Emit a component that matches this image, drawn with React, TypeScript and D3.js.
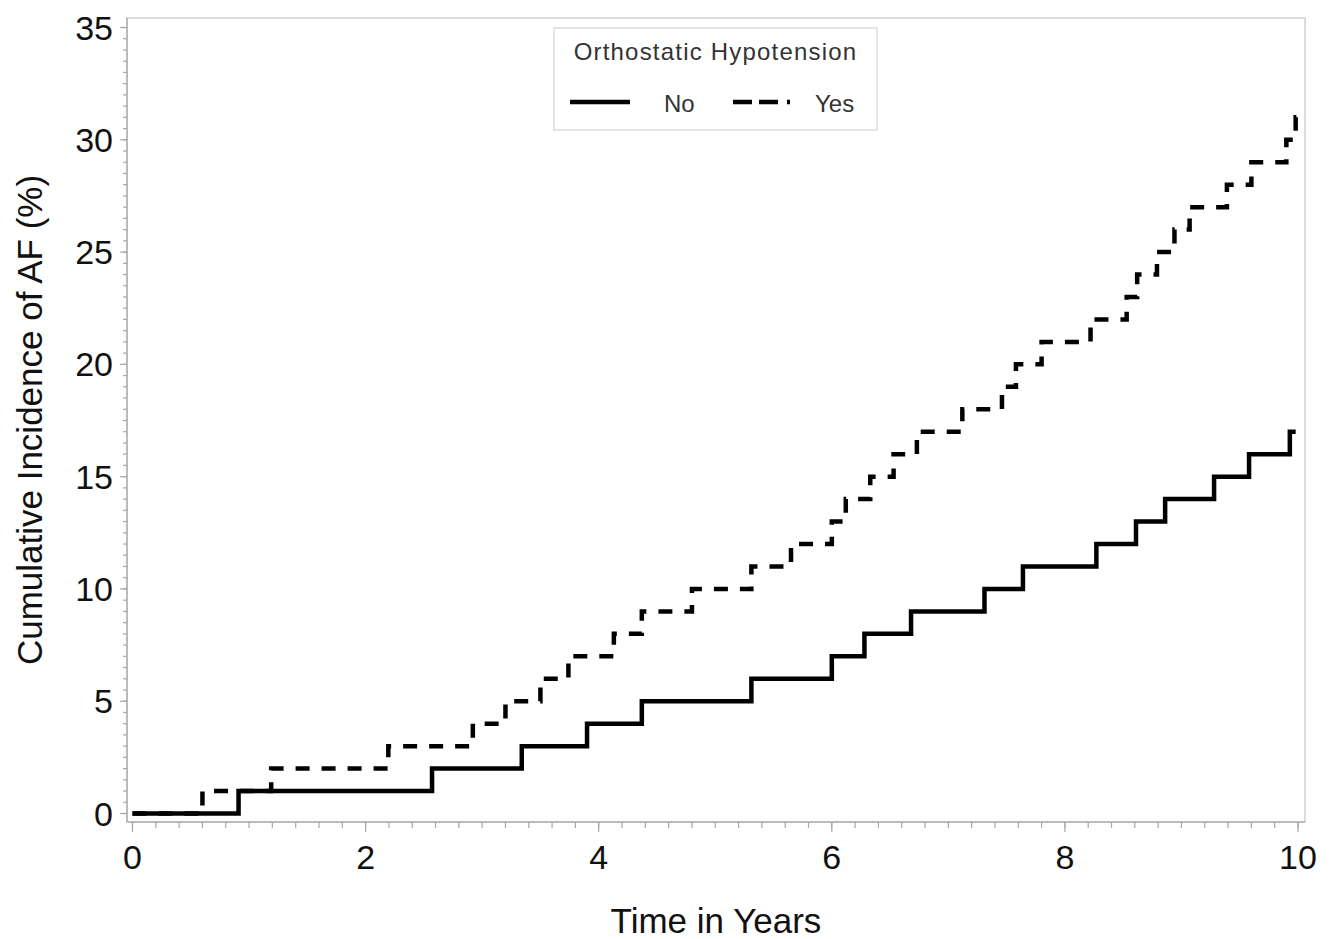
import React from 'react';
import * as d3 from 'd3';

// step times (years) where each curve jumps up by one percent
const noTimes = [0, 0.91, 2.57, 3.34, 3.90, 4.37, 5.31, 6.00, 6.28, 6.68, 7.31, 7.64, 8.27, 8.61, 8.86, 9.28, 9.58, 9.93];
const noValues = [0, 1, 2, 3, 4, 5, 6, 7, 8, 9, 10, 11, 12, 13, 14, 15, 16, 17];
const noEnd = 9.98;

const yesTimes = [0, 0.60, 1.19, 2.195, 2.92, 3.20, 3.50, 3.74, 4.13, 4.37, 4.80, 5.31, 5.65, 6.00, 6.12, 6.33, 6.53, 6.73, 7.12, 7.46, 7.58, 7.80, 8.22, 8.53, 8.62, 8.79, 8.94, 9.07, 9.39, 9.60, 9.90, 9.98];
const yesValues = [0, 1, 2, 3, 4, 5, 6, 7, 8, 9, 10, 11, 12, 13, 14, 15, 16, 17, 18, 19, 20, 21, 22, 23, 24, 25, 26, 27, 28, 29, 30, 31];
const yesEnd = 9.99;

const xTicks = [0, 2, 4, 6, 8, 10];
const yTicks = [0, 5, 10, 15, 20, 25, 30, 35];
const legendTitle = 'Orthostatic Hypotension';
const legendLabels = ['No', 'Yes'];

const W = 1336;
const H = 939;
const frame = { left: 127, right: 1305, top: 18, bottom: 822 };
const font = '"Liberation Sans", Arial, sans-serif';

const App = () => {
  const x = d3.scaleLinear().domain([0, 10]).range([132.5, 1298]);
  const y = d3.scaleLinear().domain([0, 35]).range([813.5, 27.5]);

  const toPoints = (times: number[], vals: number[], end: number) => {
    const pts = times.map((t, i) => [t, vals[i]] as [number, number]);
    pts.push([end, vals[vals.length - 1]]);
    return pts;
  };

  const line = d3.line<[number, number]>()
    .x(d => x(d[0]))
    .y(d => y(d[1]))
    .curve(d3.curveStepAfter);

  const xMinor = d3.range(0, 10.001, 0.2);
  const yMinor = d3.range(0, 35.001, 0.5);

  return (
    <svg width={W} height={H} style={{ position: 'absolute', left: 0, top: 0, background: '#fff' }}>
      <rect x={0} y={0} width={W} height={H} fill="#fff" />
      {/* plot frame */}
      <rect x={frame.left} y={frame.top} width={frame.right - frame.left} height={frame.bottom - frame.top}
        fill="none" stroke="#cfcfcf" strokeWidth={1.5} />
      <line x1={frame.left} x2={frame.right} y1={frame.bottom} y2={frame.bottom} stroke="#b0b0b0" strokeWidth={1.5} />
      <line x1={frame.left} x2={frame.left} y1={frame.top} y2={frame.bottom} stroke="#b0b0b0" strokeWidth={1.5} />

      {/* x ticks */}
      {xMinor.map((t, i) => (
        <line key={'xm' + i} x1={x(t)} x2={x(t)} y1={frame.bottom} y2={frame.bottom + 6} stroke="#a8a8a8" strokeWidth={1.2} />
      ))}
      {xTicks.map(t => (
        <g key={'xt' + t}>
          <line x1={x(t)} x2={x(t)} y1={frame.bottom} y2={frame.bottom + 10} stroke="#a8a8a8" strokeWidth={1.2} />
          <text x={x(t)} y={869} textAnchor="middle" fontFamily={font} fontSize={34} fill="#111">{t}</text>
        </g>
      ))}

      {/* y ticks */}
      {yMinor.map((v, i) => (
        <line key={'ym' + i} x1={frame.left - 4} x2={frame.left} y1={y(v)} y2={y(v)} stroke="#a8a8a8" strokeWidth={1.2} />
      ))}
      {yTicks.map(v => (
        <g key={'yt' + v}>
          <line x1={frame.left - 7} x2={frame.left} y1={y(v)} y2={y(v)} stroke="#a8a8a8" strokeWidth={1.2} />
          <text x={113} y={y(v) + 12} textAnchor="end" fontFamily={font} fontSize={34} fill="#111">{v}</text>
        </g>
      ))}

      {/* axis titles */}
      <text x={(frame.left + frame.right) / 2} y={933} textAnchor="middle" fontFamily={font} fontSize={35} fill="#111">
        Time in Years
      </text>
      <text transform={`translate(42,${(frame.top + frame.bottom) / 2}) rotate(-90)`} textAnchor="middle"
        fontFamily={font} fontSize={35} fill="#111">
        Cumulative Incidence of AF (%)
      </text>

      {/* curves */}
      <path d={line(toPoints(noTimes, noValues, noEnd)) || ''} fill="none" stroke="#000" strokeWidth={4.5} />
      <path d={line(toPoints(yesTimes, yesValues, yesEnd)) || ''} fill="none" stroke="#000" strokeWidth={4.5}
        strokeDasharray="14 12" />

      {/* legend */}
      <g>
        <rect x={554} y={28} width={323} height={102} fill="#fff" stroke="#dcdcdc" strokeWidth={1.5} />
        <text x={715.5} y={60} textAnchor="middle" fontFamily={font} fontSize={24} letterSpacing={1.2} fill="#333">
          {legendTitle}
        </text>
        <line x1={570} x2={630} y1={102} y2={102} stroke="#000" strokeWidth={4.5} />
        <text x={664} y={112} fontFamily={font} fontSize={24} fill="#333">{legendLabels[0]}</text>
        <line x1={733} x2={790} y1={102} y2={102} stroke="#000" strokeWidth={4.5} strokeDasharray="19 7 19 9 5 100" />
        <text x={815} y={112} fontFamily={font} fontSize={24} fill="#333">{legendLabels[1]}</text>
      </g>
    </svg>
  );
};

export default App;
